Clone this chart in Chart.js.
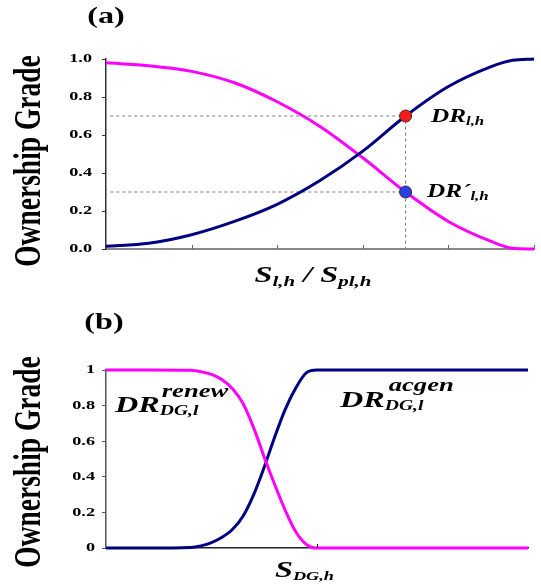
<!DOCTYPE html>
<html>
<head>
<meta charset="utf-8">
<script src="https://cdn.jsdelivr.net/npm/chart.js@4"></script>
<style>
  html, body { margin: 0; padding: 0; background: #fff; }
  #wrap { position: relative; width: 541px; height: 587px; }
  #chartA { position: absolute; left: 0; top: 0; }
  #chartB { position: absolute; left: 0; top: 300px; }
</style>
</head>
<body>
<div id="wrap">
  <canvas id="chartA" width="541" height="300"></canvas>
  <canvas id="chartB" width="541" height="287"></canvas>
</div>
<script>
/* ---- panel (a) ---- */
const xA = [0, 0.5, 1, 1.5, 2, 2.5, 3, 3.5, 4, 4.5, 4.75, 5];
const ownA = [0.015, 0.03, 0.075, 0.145, 0.235, 0.36, 0.515, 0.7, 0.855, 0.96, 0.993, 1.0];
const otherA = [0.98, 0.965, 0.935, 0.875, 0.775, 0.645, 0.48, 0.3, 0.145, 0.04, 0.004, 0.0];
const markX = 3.5;
const markHigh = 0.7;
const markLow = 0.3;
const guideStart = 0.05;
const yTicksA = ['0.0', '0.2', '0.4', '0.6', '0.8', '1.0'];
const xTicksA = [1, 2, 3, 4, 5];

/* ---- panel (b) ---- */
const xB = [0, 1, 2, 2.25, 2.5, 2.75, 3, 3.25, 3.5, 3.75, 4, 4.25, 4.5, 4.75, 5, 10];
const acgenB = [0, 0, 0.003, 0.012, 0.03, 0.06, 0.105, 0.18, 0.3, 0.455, 0.625, 0.78, 0.9, 0.985, 1.0, 1.0];
const renewB = [1, 1, 0.998, 0.99, 0.975, 0.945, 0.895, 0.81, 0.675, 0.51, 0.355, 0.21, 0.09, 0.02, 0, 0];
const yTicksB = ['0', '0.2', '0.4', '0.6', '0.8', '1'];
const xTicksB = [5];

const NAVY = '#000080';
const PINK = '#ff00ff';
const SERIF = '"Liberation Serif", "Times New Roman", serif';
const SX = 1.4; // the original picture is stretched sideways

const pts = (xs, ys) => xs.map((x, i) => ({ x, y: ys[i] }));

function fontOf(size, italic) {
    return `${italic ? 'italic ' : ''}bold ${size}px ${SERIF}`;
}

function txtWidth(ctx, s, size, italic) {
    ctx.save();
    ctx.font = fontOf(size, italic);
    const w = ctx.measureText(s).width * SX;
    ctx.restore();
    return w;
}

// draws text squeezed the same way as the reference, returns its width
function txt(ctx, s, x, y, size, o = {}) {
    ctx.save();
    ctx.font = fontOf(size, o.italic);
    ctx.fillStyle = '#000';
    ctx.textBaseline = o.baseline || 'alphabetic';
    ctx.textAlign = 'left';
    const w = ctx.measureText(s).width * SX;
    const left = o.align === 'center' ? x - w / 2 : o.align === 'right' ? x - w : x;
    ctx.translate(left, y);
    ctx.scale(SX, 1);
    ctx.fillText(s, 0, 0);
    ctx.restore();
    return w;
}

function vTitle(ctx, s, x, yc, size) {
    ctx.save();
    ctx.font = fontOf(size, false);
    ctx.fillStyle = '#000';
    ctx.translate(x, yc);
    ctx.rotate(-Math.PI / 2);
    ctx.scale(1, SX);
    ctx.textAlign = 'center';
    ctx.textBaseline = 'alphabetic';
    ctx.fillText(s, 0, 0);
    ctx.restore();
}

function drawYLabels(chart, labels, right) {
    const sc = chart.scales.y;
    labels.forEach(l => {
        txt(chart.ctx, l, right, sc.getPixelForValue(parseFloat(l)), 13, { align: 'right', baseline: 'middle' });
    });
}

function drawXTicks(chart, ticks, color) {
    const ctx = chart.ctx, sc = chart.scales.x, b = chart.chartArea.bottom;
    ctx.save();
    ctx.strokeStyle = color;
    ctx.lineWidth = 1;
    ticks.forEach(v => {
        const px = Math.round(sc.getPixelForValue(v)) + 0.5;
        ctx.beginPath();
        ctx.moveTo(px, b);
        ctx.lineTo(px, b - 4);
        ctx.stroke();
    });
    ctx.restore();
}

function axisOptions(xMax, yBorder, xBorder, xBorderW, xHeight) {
    return {
        x: {
            type: 'linear', min: 0, max: xMax,
            grid: { display: false },
            border: { display: true, color: xBorder, width: xBorderW },
            ticks: { display: false },
            afterFit: s => { s.height = xHeight; }
        },
        y: {
            min: 0, max: 1,
            grid: { drawOnChartArea: false, drawTicks: true, tickLength: 4, color: yBorder, lineWidth: 1 },
            border: { display: true, color: yBorder, width: 1.5 },
            ticks: { stepSize: 0.2, color: 'rgba(0,0,0,0)', font: { size: 13 } },
            afterFit: s => { s.width = 106; }
        }
    };
}

const curve = (data, color) => ({
    data, borderColor: color, borderWidth: 3, pointRadius: 0,
    cubicInterpolationMode: 'monotone', clip: false, fill: false
});

/* ---- chart (a) ---- */
const decoA = {
    id: 'decoA',
    afterDraw(chart) {
        const ctx = chart.ctx;
        drawYLabels(chart, yTicksA, 92);
        drawXTicks(chart, xTicksA, '#666');
        txt(ctx, '(a)', 106, 23, 23, { align: 'center' });
        vTitle(ctx, 'Ownership Grade', 40, 161, 27.5);

        // S_l,h / S_pl,h
        const parts = [['S', 23, 0], ['l,h', 15, 4], [' / ', 23, 0], ['S', 23, 0], ['pl,h', 15, 4]];
        const total = parts.reduce((a, p) => a + txtWidth(ctx, p[0], p[1], true), 0);
        let x = 313 - total / 2;
        parts.forEach(p => { x += txt(ctx, p[0], x, 282 + p[2], p[1], { italic: true }); });

        let w = txt(ctx, 'DR', 431, 122, 18, { italic: true });
        txt(ctx, 'l,h', 431 + w, 125, 12, { italic: true });
        w = txt(ctx, 'DR\u00b4', 427, 197, 18, { italic: true });
        txt(ctx, 'l,h', 427 + w, 200, 12, { italic: true });
    }
};

new Chart(document.getElementById('chartA'), {
    type: 'line',
    data: {
        datasets: [
            { data: [{ x: guideStart, y: markHigh }, { x: markX, y: markHigh }, { x: markX, y: 0 }],
              borderColor: '#7a7a7a', borderWidth: 1, borderDash: [3, 3], pointRadius: 0, order: 5 },
            { data: [{ x: guideStart, y: markLow }, { x: markX, y: markLow }],
              borderColor: '#7a7a7a', borderWidth: 1, borderDash: [3, 3], pointRadius: 0, order: 5 },
            { ...curve(pts(xA, ownA), NAVY), order: 3 },
            { ...curve(pts(xA, otherA), PINK), order: 4 },
            { data: [{ x: markX, y: markHigh }], showLine: false, pointRadius: 6,
              pointBackgroundColor: '#ff1a1a', pointBorderColor: '#333', pointBorderWidth: 1, order: 1, clip: false },
            { data: [{ x: markX, y: markLow }], showLine: false, pointRadius: 6,
              pointBackgroundColor: '#2a3fe8', pointBorderColor: '#333', pointBorderWidth: 1, order: 1, clip: false }
        ]
    },
    options: {
        responsive: false,
        devicePixelRatio: 1,
        animation: false,
        layout: { padding: { top: 59, right: 6, left: 0, bottom: 0 } },
        plugins: { legend: { display: false }, tooltip: { enabled: false } },
        scales: axisOptions(5, '#333', '#888', 2, 51)
    },
    plugins: [decoA]
});

/* ---- chart (b) ---- */
const decoB = {
    id: 'decoB',
    afterDraw(chart) {
        const ctx = chart.ctx;
        drawYLabels(chart, yTicksB, 95);
        drawXTicks(chart, xTicksB, '#222');
        txt(ctx, '(b)', 104, 29, 23, { align: 'center' });
        vTitle(ctx, 'Ownership Grade', 40, 162, 27.5);

        let w = txt(ctx, 'S', 275, 277, 23, { italic: true });
        txt(ctx, 'DG,h', 275 + w, 280, 13, { italic: true });

        w = txt(ctx, 'DR', 115, 112, 23, { italic: true });
        txt(ctx, 'renew', 115 + w + 2, 97, 19, { italic: true });
        txt(ctx, 'DG,l', 115 + w, 115, 14, { italic: true });

        w = txt(ctx, 'DR', 340, 107, 23, { italic: true });
        txt(ctx, 'acgen', 340 + w + 4, 91, 19, { italic: true });
        txt(ctx, 'DG,l', 340 + w, 110, 14, { italic: true });
    }
};

new Chart(document.getElementById('chartB'), {
    type: 'line',
    data: {
        datasets: [
            { ...curve(pts(xB, acgenB), NAVY), order: 2 },
            { ...curve(pts(xB, renewB), PINK), order: 1 }
        ]
    },
    options: {
        responsive: false,
        devicePixelRatio: 1,
        animation: false,
        layout: { padding: { top: 70, right: 13, left: 0, bottom: 0 } },
        plugins: { legend: { display: false }, tooltip: { enabled: false } },
        scales: axisOptions(10, '#555', '#222', 1.5, 39)
    },
    plugins: [decoB]
});
</script>
</body>
</html>
